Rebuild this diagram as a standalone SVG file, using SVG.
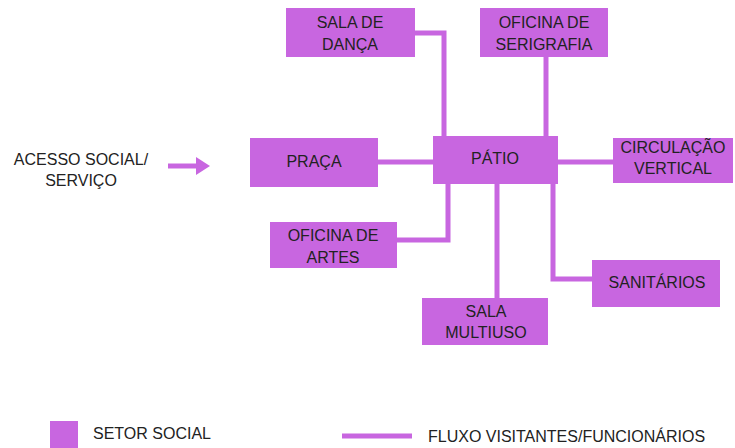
<svg xmlns="http://www.w3.org/2000/svg" width="735" height="448" viewBox="0 0 735 448">
<style>
.box{fill:#c866e0}
.lbl{font-family:"Liberation Sans",Arial,sans-serif;font-size:16px;fill:#222;text-anchor:middle}
.txt{font-family:"Liberation Sans",Arial,sans-serif;font-size:16px;fill:#222}
.ln{fill:none;stroke:#c866e0;stroke-width:5}
</style>
<rect width="735" height="448" fill="#fff"/>
<g id="connectors">
<path class="ln" d="M415 33 H444 V136"/>
<path class="ln" d="M546 57 V136"/>
<path class="ln" d="M378 162 H433"/>
<path class="ln" d="M558 162 H613"/>
<path class="ln" d="M397 240 H448 V183"/>
<path class="ln" d="M497 183 V298"/>
<path class="ln" d="M553 183 V279 H592"/>
<path class="ln" d="M168 166 H198"/>
<polygon points="196,157 210,166 196,175" fill="#c866e0"/>
</g>
<g id="acesso">
<text class="lbl" x="81" y="165">ACESSO SOCIAL/</text>
<text class="lbl" x="81" y="186">SERVIÇO</text>
</g>
<g id="sala-danca">
<rect class="box" x="286" y="8" width="129" height="49"/>
<text class="lbl" x="350" y="28">SALA DE</text>
<text class="lbl" x="350" y="50">DANÇA</text>
</g>
<g id="serigrafia">
<rect class="box" x="480" y="8" width="128" height="49"/>
<text class="lbl" x="544" y="28">OFICINA DE</text>
<text class="lbl" x="544" y="50">SERIGRAFIA</text>
</g>
<g id="praca">
<rect class="box" x="250" y="138" width="128" height="49"/>
<text class="lbl" x="314" y="167">PRAÇA</text>
</g>
<g id="patio">
<rect class="box" x="433" y="136" width="125" height="48"/>
<text class="lbl" x="495" y="164">PÁTIO</text>
</g>
<g id="circulacao">
<rect class="box" x="613" y="138" width="120" height="45"/>
<text class="lbl" x="673" y="153">CIRCULAÇÃO</text>
<text class="lbl" x="673" y="174">VERTICAL</text>
</g>
<g id="oficina-artes">
<rect class="box" x="270" y="222" width="127" height="46"/>
<text class="lbl" x="333" y="241">OFICINA DE</text>
<text class="lbl" x="333" y="263">ARTES</text>
</g>
<g id="sala-multiuso">
<rect class="box" x="422" y="298" width="126" height="47"/>
<text class="lbl" x="486" y="317">SALA</text>
<text class="lbl" x="486" y="338">MULTIUSO</text>
</g>
<g id="sanitarios">
<rect class="box" x="592" y="260" width="128" height="47"/>
<text class="lbl" x="657" y="288">SANITÁRIOS</text>
</g>
<g id="legend">
<rect class="box" x="50" y="421" width="28" height="27"/>
<text class="txt" x="93" y="439">SETOR SOCIAL</text>
<path class="ln" d="M342 436 H412"/>
<text class="txt" x="428" y="442">FLUXO VISITANTES/FUNCIONÁRIOS</text>
</g>
</svg>
